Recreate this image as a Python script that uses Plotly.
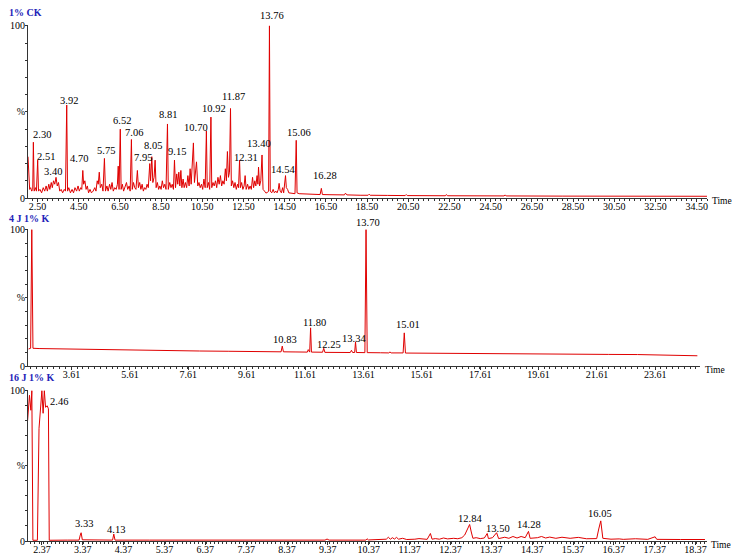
import plotly.graph_objects as go
from plotly.subplots import make_subplots

# the page body adds an 8px margin, so the figure is drawn 8px in from the window edge
OFFSET = 8
W, H = 744 - OFFSET, 555 - OFFSET
LEFT, RIGHT = 28 - OFFSET, 37
PLOT_W = W - LEFT - RIGHT
LINE_RED = "#e00000"
TITLE_BLUE = "#2323b8"
AXIS_GREY = "#333333"
FONT = "Times New Roman, Liberation Serif, serif"

# --- 1% CK : retention time (min) / relative abundance (%)
ck_rt = [
    2.04, 2.08, 2.12, 2.17, 2.22, 2.27, 2.30, 2.34, 2.40, 2.45,
    2.51, 2.55, 2.62, 2.70, 2.78, 2.85, 2.92, 2.98, 3.05, 3.10,
    3.17, 3.22, 3.28, 3.34, 3.40, 3.46, 3.52, 3.58, 3.65, 3.72,
    3.80, 3.86, 3.92, 3.96, 4.02, 4.10, 4.18, 4.25, 4.32, 4.40,
    4.47, 4.53, 4.60, 4.65, 4.70, 4.74, 4.80, 4.86, 4.92, 4.98,
    5.05, 5.12, 5.20, 5.28, 5.34, 5.40, 5.45, 5.50, 5.55, 5.62,
    5.68, 5.75, 5.80, 5.87, 5.93, 6.00, 6.06, 6.12, 6.18, 6.25,
    6.32, 6.38, 6.42, 6.46, 6.52, 6.56, 6.62, 6.68, 6.75, 6.82,
    6.88, 6.95, 7.00, 7.06, 7.10, 7.16, 7.22, 7.28, 7.35, 7.40,
    7.46, 7.52, 7.58, 7.64, 7.70, 7.76, 7.82, 7.88, 7.95, 7.99,
    8.05, 8.10, 8.16, 8.21, 8.26, 8.32, 8.38, 8.44, 8.50, 8.56,
    8.62, 8.68, 8.74, 8.81, 8.85, 8.92, 8.98, 9.04, 9.10, 9.15,
    9.20, 9.26, 9.31, 9.36, 9.41, 9.46, 9.51, 9.57, 9.62, 9.68,
    9.74, 9.80, 9.86, 9.91, 9.96, 10.02, 10.07, 10.12, 10.22, 10.28,
    10.34, 10.40, 10.46, 10.52, 10.58, 10.64, 10.70, 10.74, 10.80, 10.86,
    10.92, 10.96, 11.02, 11.08, 11.14, 11.20, 11.26, 11.32, 11.38, 11.44,
    11.50, 11.56, 11.62, 11.67, 11.72, 11.77, 11.82, 11.87, 11.91, 11.97,
    12.03, 12.09, 12.15, 12.21, 12.26, 12.31, 12.35, 12.41, 12.47, 12.53,
    12.58, 12.63, 12.70, 12.76, 12.82, 12.88, 12.94, 12.99, 13.05, 13.10,
    13.16, 13.20, 13.23, 13.28, 13.34, 13.40, 13.45, 13.52, 13.58, 13.64,
    13.72, 13.76, 13.80, 13.87, 13.94, 14.00, 14.07, 14.13, 14.19, 14.23,
    14.28, 14.34, 14.40, 14.45, 14.50, 14.54, 14.58, 14.64, 14.70, 14.80,
    14.92, 15.00, 15.06, 15.10, 15.20, 15.50, 15.80, 16.10, 16.22, 16.28,
    16.33, 16.70, 17.10, 17.40, 17.45, 17.52, 18.20, 18.55, 18.60, 18.65,
    19.50, 20.35, 20.40, 20.45, 22.30, 22.35, 22.40, 25.15, 25.20, 25.25,
    28.0, 31.0, 35.0,
]
ck_pct = [
    24, 8, 5, 6, 4, 5, 32.4, 4, 6, 4,
    22, 4, 5, 3, 6, 4, 7, 4, 8, 5,
    9, 6, 10, 8, 12, 7, 9, 4, 5, 3,
    5, 4, 54, 4, 6, 3, 5, 3, 6, 4,
    7, 4, 6, 5, 16, 8, 10, 5, 7, 3,
    5, 3, 4, 6, 4, 10, 8, 15, 6, 8,
    4, 23, 4, 7, 4, 8, 5, 9, 4, 6,
    5, 8, 18.5, 5, 40, 5, 8, 4, 6, 9,
    5, 7, 4, 34, 5, 9, 6, 5, 16, 6,
    9, 5, 8, 4, 6, 5, 8, 6, 20, 10,
    24, 9, 12, 22, 6, 9, 5, 7, 5, 10,
    6, 8, 5, 43, 5, 9, 6, 8, 5, 22,
    6, 14, 8, 15, 7, 16, 6, 11, 6, 9,
    6, 13, 7, 17, 8, 20, 32, 9, 21, 7,
    9, 6, 8, 5, 11, 6, 39, 6, 9, 5,
    47, 6, 9, 7, 10, 6, 12, 8, 13, 7,
    10, 8, 17, 10, 27, 12, 15, 52, 7, 10,
    6, 9, 5, 8, 6, 22, 6, 9, 5, 7,
    13, 5, 8, 5, 7, 5, 12, 6, 10, 7,
    13, 8, 18, 7, 10, 25, 5, 4, 3, 3,
    4, 100, 4, 3, 5, 3, 4, 3, 5, 8.5,
    4, 3, 6, 3, 11, 13, 6, 5, 3, 2.7,
    2.5, 2.5, 33.5, 3, 2.5, 2.4, 2.2, 2.1, 2.0, 5.6,
    2.0, 1.9, 1.8, 1.8, 2.8, 1.8, 1.6, 1.6, 2.2, 1.6,
    1.5, 1.4, 2.0, 1.4, 1.3, 2.0, 1.3, 1.2, 1.8, 1.2,
    1.1, 1.0, 1.0,
]
ck_labels = [2.30, 2.51, 3.40, 3.92, 4.70, 5.75, 6.52, 7.06, 7.95, 8.05, 8.81,
             9.15, 10.70, 10.92, 11.87, 12.31, 13.40, 13.76, 14.54, 15.06, 16.28]

# --- 4 J 1% K
j4_rt = [
    2.14, 2.21, 2.25, 2.29, 2.5, 3.0, 4.0, 5.0, 6.0, 7.0,
    8.0, 9.0, 10.0, 10.5, 10.79, 10.83, 10.87, 11.3, 11.69, 11.72,
    11.75, 11.77, 11.80, 11.83, 12.21, 12.25, 12.29, 12.8, 13.16, 13.20,
    13.24, 13.31, 13.34, 13.37, 13.66, 13.70, 13.74, 14.2, 14.48, 14.52,
    14.56, 14.97, 15.01, 15.05, 16.0, 17.0, 18.0, 19.0, 20.0, 21.0,
    22.0, 23.0, 24.0, 24.5, 25.05,
]
j4_pct = [
    12.5, 13, 100, 13, 12.8, 12.6, 12.2, 11.9, 11.6, 11.3,
    11.0, 10.8, 10.6, 10.5, 10.4, 14.6, 10.4, 10.3, 10.2, 12,
    10.2, 10.2, 28, 10.2, 10.1, 13, 10.0, 10.0, 9.9, 11.5,
    9.9, 9.9, 17.7, 9.9, 9.8, 100, 9.8, 9.7, 9.6, 10.3,
    9.6, 9.6, 24.3, 9.5, 9.3, 9.1, 9.0, 8.9, 8.8, 8.6,
    8.5, 8.4, 8.2, 7.8, 7.5,
]
j4_labels = [10.83, 11.80, 12.25, 13.34, 13.70, 15.01]

# --- 16 J 1% K
j16_rt = [
    2.02, 2.066, 2.10, 2.124, 2.15, 2.26, 2.30, 2.33, 2.37, 2.40,
    2.43, 2.46, 2.50, 2.53, 2.55, 3.0, 3.28, 3.31, 3.33, 3.36,
    3.6, 4.10, 4.13, 4.16, 5.0, 6.0, 7.0, 8.0, 9.3, 9.35,
    9.4, 10.3, 10.33, 10.36, 10.6, 10.8, 10.85, 10.9, 10.95, 11.0,
    11.05, 11.1, 11.2, 11.3, 11.5, 11.6, 11.8, 11.88, 11.92, 12.0,
    12.1, 12.2, 12.3, 12.45, 12.55, 12.65, 12.72, 12.78, 12.84, 12.88,
    12.92, 13.0, 13.1, 13.2, 13.27, 13.30, 13.40, 13.50, 13.55, 13.7,
    13.8, 13.9, 14.0, 14.1, 14.2, 14.28, 14.32, 14.5, 14.6, 14.7,
    14.8, 14.95, 15.1, 15.3, 15.5, 15.7, 15.95, 16.0, 16.05, 16.1,
    16.3, 16.5, 16.6, 16.9, 17.2, 17.38, 17.42, 18.0, 18.6,
]
j16_pct = [
    80, 97, 87, 100, 0.5, 0.5, 75, 88, 100, 85,
    100, 89, 90, 88, 0.5, 0.6, 0.6, 4, 5.5, 0.8,
    0.6, 0.6, 4.6, 0.6, 0.6, 0.6, 0.6, 0.6, 0.6, 1.3,
    0.6, 0.6, 1.5, 0.7, 0.8, 1.2, 2.5, 1.2, 2.2, 1.3,
    2.4, 1.2, 1.8, 1.0, 1.2, 1.6, 1.1, 5, 1.2, 1.6,
    1.2, 2, 1.4, 1.8, 1.5, 2.2, 4, 8, 11, 6,
    1.8, 2.2, 1.6, 2, 5, 1.6, 2.2, 5.5, 1.6, 2.5,
    1.8, 3, 2, 3, 2.2, 6.4, 1.8, 2.2, 3, 2,
    2.6, 1.8, 2.5, 1.8, 2.4, 1.5, 1.6, 8, 13.4, 1.8,
    1.2, 1.4, 1.1, 1.5, 1.1, 2.8, 1.1, 1.0, 1.0,
]
j16_labels = [2.46, 3.33, 4.13, 12.84, 13.50, 14.28, 16.05]

# label nudges in px (x right, y up) to sit like the instrument printout
LABEL_SHIFT = {
    0: {2.30: (9, 8), 2.51: (8, 4), 3.40: (-3, 6), 3.92: (2, 5), 4.70: (-4, 12),
        5.75: (2, 8), 6.52: (2, 9), 7.06: (3, 7), 7.95: (-7, 6), 8.05: (1, 11),
        8.81: (1, 9), 9.15: (3, 9), 10.70: (-10, 3), 10.92: (3, 9), 11.87: (3, 12),
        12.31: (6, 3), 13.40: (-3, 11), 13.76: (3, 10), 14.54: (-3, 6),
        15.06: (3, 8), 16.28: (4, 13)},
    1: {10.83: (3, 7), 11.80: (4, 5), 12.25: (5, 4), 13.34: (-2, 3),
        13.70: (2, 7), 15.01: (4, 8)},
    2: {2.46: (13, 6), 3.33: (3, 9), 4.13: (2, 5), 12.84: (0, 6),
        13.50: (1, 4), 14.28: (1, 7), 16.05: (-1, 7)},
}

# layout in window pixels (top, bottom of the 0-100 % span, right end of x axis)
PANELS = [
    dict(name="1% CK", rt=ck_rt, pct=ck_pct, labels=ck_labels,
         xrange=[2.04, 35.0], tick0=2.5, dtick=2, minor=0.25,
         ypx=(25, 198), xend=707, title_y=13, time_xy=(722, 201)),
    dict(name="4 J 1% K", rt=j4_rt, pct=j4_pct, labels=j4_labels,
         xrange=[2.12, 25.14], tick0=3.61, dtick=2, minor=0.2,
         ypx=(229, 366), xend=700, title_y=219, time_xy=(715, 370)),
    dict(name="16 J 1% K", rt=j16_rt, pct=j16_pct, labels=j16_labels,
         xrange=[2.03, 18.65], tick0=2.37, dtick=1, minor=0.1,
         ypx=(390, 541), xend=707, title_y=377, time_xy=(721, 545)),
]


def paper_x(px):
    return (px - OFFSET - LEFT) / PLOT_W


def paper_y(py):
    return 1 - (py - OFFSET) / H


fig = make_subplots(rows=3, cols=1)
annotations = []
tick_font = dict(family=FONT, size=10, color="black")

for i, p in enumerate(PANELS):
    row = i + 1
    fig.add_trace(go.Scatter(x=p["rt"], y=p["pct"], mode="lines",
                             line=dict(color=LINE_RED, width=1), hoverinfo="skip",
                             showlegend=False), row=row, col=1)
    top, bottom = p["ypx"]
    fig.update_xaxes(range=p["xrange"], domain=[0, paper_x(p["xend"])],
                     tick0=p["tick0"], dtick=p["dtick"], tickformat=".2f",
                     showline=True, linecolor=AXIS_GREY, linewidth=1,
                     ticks="outside", ticklen=3, tickcolor=AXIS_GREY, tickfont=tick_font,
                     ticklabelstandoff=-4, automargin=False,
                     showgrid=False, zeroline=False,
                     minor=dict(dtick=p["minor"], ticks="outside", ticklen=2,
                                tickcolor=AXIS_GREY, showgrid=False),
                     row=row, col=1)
    fig.update_yaxes(range=[0, 100.5], domain=[paper_y(bottom), paper_y(top)],
                     tickmode="array", tickvals=[0, 50, 100], ticktext=["0", "%", "100"],
                     showline=True, linecolor=AXIS_GREY, linewidth=1,
                     ticks="outside", ticklen=2, tickcolor=AXIS_GREY, tickfont=tick_font,
                     ticklabelstandoff=-2, automargin=False,
                     showgrid=False, zeroline=False,
                     minor=dict(tickmode="array", tickvals=[10, 20, 30, 40, 60, 70, 80, 90],
                                ticks="outside", ticklen=2, tickcolor=AXIS_GREY, showgrid=False),
                     row=row, col=1)

    lookup = dict(zip(p["rt"], p["pct"]))
    xref = "x" if row == 1 else f"x{row}"
    yref = "y" if row == 1 else f"y{row}"
    for t in p["labels"]:
        dx, dy = LABEL_SHIFT[i][t]
        annotations.append(dict(x=t, y=lookup[t], xref=xref, yref=yref, text=f"{t:.2f}",
                                showarrow=False, xanchor="center", yanchor="middle",
                                xshift=dx, yshift=dy,
                                font=dict(family=FONT, size=10.5, color="black")))

    annotations.append(dict(x=paper_x(7), y=paper_y(p["title_y"]), xref="paper", yref="paper",
                            text=f"<b>{p['name']}</b>", showarrow=False, xanchor="left",
                            yanchor="middle", font=dict(family=FONT, size=10, color=TITLE_BLUE)))
    tx, ty = p["time_xy"]
    annotations.append(dict(x=paper_x(tx), y=paper_y(ty), xref="paper", yref="paper",
                            text="Time", showarrow=False, xanchor="center", yanchor="middle",
                            font=dict(family=FONT, size=9.5, color="black")))

fig.update_layout(width=W, height=H, margin=dict(l=LEFT, r=RIGHT, t=0, b=0, autoexpand=False),
                  paper_bgcolor="white", plot_bgcolor="white",
                  annotations=annotations, showlegend=False)

fig.write_html("out.html")
